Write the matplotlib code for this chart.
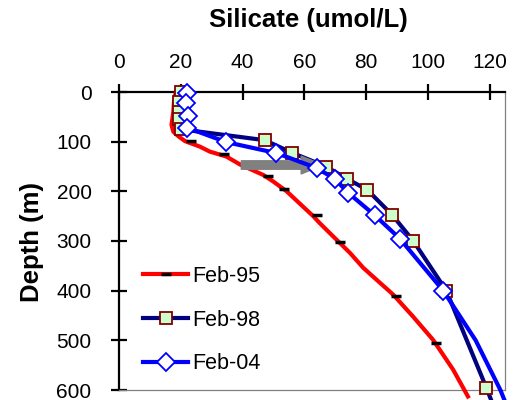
import matplotlib
matplotlib.use("Agg")
import matplotlib.pyplot as plt
from matplotlib.lines import Line2D
from matplotlib.patches import FancyArrowPatch

plt.rcParams['font.family'] = ['Liberation Sans', 'DejaVu Sans']

# ---- data ----
feb95_line_x = [18.4, 17.8, 17.6, 17.0, 17.6, 19.2, 21.4, 26.2, 29.4, 34.8, 39.2, 46.7, 49.9,
                54.3, 62.9, 65.0, 69.4, 74.8, 79.1, 83.4, 88.8, 95.2, 101.7, 108.2, 113.0]
feb95_line_d = [0, 20, 40, 66, 80, 89, 99, 110, 120, 130, 146, 167, 180,
                200, 250, 264, 291, 324, 354, 378, 408, 452, 499, 559, 613]
feb95_mark_x = [23.2, 34.0, 48.1, 53.5, 64.0, 71.5, 89.6, 102.6]
feb95_mark_d = [99, 125, 170, 195, 248, 302, 410, 505]

feb98_x = [20.0, 19.5, 19.5, 19.5, 20.0, 47.2, 55.9, 67.0, 73.9, 80.4, 88.4, 95.2, 106.0, 119.0, 120.5]
feb98_d = [0, 20, 40, 55, 75, 97, 122, 150, 175, 197, 247, 299, 400, 596, 620]

feb04_x = [22.1, 21.7, 22.2, 22.1, 34.8, 51.0, 64.0, 69.9, 74.2, 82.8, 90.9, 105.0, 115.5, 123.5, 124.8]
feb04_d = [2, 22, 48, 72, 101, 123, 153, 175, 203, 248, 295, 400, 500, 600, 620]
feb04_mark_n = 12  # markers on the first 12 samples

arrow_x = [39.6, 66.2]
arrow_d = [147, 147]

labels = ['Feb-95', 'Feb-98', 'Feb-04']
xticks = [0, 20, 40, 60, 80, 100, 120]
yticks = [0, 100, 200, 300, 400, 500, 600]

# ---- figure ----
fig = plt.figure(figsize=(5.17, 4.0), dpi=100)
ax = fig.add_axes([119/517, 10/400, 386/517, 298/400])

red = '#FF0000'
navy = '#000080'
blue = '#0000FF'

ax.plot(feb95_line_x, feb95_line_d, color=red, lw=3, clip_on=False, zorder=3)
ax.plot(feb95_mark_x, feb95_mark_d, ls='none', marker='_', ms=7, mew=2.5, color='black',
        clip_on=False, zorder=4)

ax.plot(feb98_x[:-1], feb98_d[:-1], color=navy, lw=3, marker='s', ms=9,
        mfc='#CCFFCC', mec='#800000', mew=1.3, clip_on=False, zorder=5)
ax.plot(feb98_x[-2:], feb98_d[-2:], color=navy, lw=3, clip_on=False, zorder=4.9)

ax.plot(feb04_x, feb04_d, color=blue, lw=3, clip_on=False, zorder=6)
ax.plot(feb04_x[:feb04_mark_n], feb04_d[:feb04_mark_n], ls='none', marker='D', ms=9.5,
        mfc='white', mec=blue, mew=1.3, clip_on=False, zorder=6.5)

arr = FancyArrowPatch((arrow_x[0], arrow_d[0]), (arrow_x[1], arrow_d[1]),
                      arrowstyle='simple,head_length=1.0,head_width=0.8,tail_width=0.38',
                      mutation_scale=16, color='#808080', shrinkA=0, shrinkB=0, zorder=5.5)
ax.add_patch(arr)

ax.set_xlim(0, 125)
ax.set_ylim(600, 0)
ax.set_xticks(xticks)
ax.set_yticks(yticks)
ax.xaxis.tick_top()
ax.xaxis.set_label_position('top')
ax.tick_params(axis='both', direction='inout', length=11.5, width=1.6, labelsize=15, color='black')
ax.tick_params(axis='x', pad=9)
ax.tick_params(axis='y', pad=14)

for s in ['top', 'left']:
    ax.spines[s].set_linewidth(1.6)
    ax.spines[s].set_color('black')
for s in ['right', 'bottom']:
    ax.spines[s].set_linewidth(0.9)
    ax.spines[s].set_color('#808080')

fig.text(308/517, 1 - 20/400, 'Silicate (umol/L)', ha='center', va='center',
         fontsize=18.5, fontweight='bold')
fig.text(32/517, 1 - 242/400, 'Depth (m)', ha='center', va='center', rotation=90,
         fontsize=18.5, fontweight='bold')

handles = [
    Line2D([], [], color=red, lw=3, marker='_', ms=7, mew=2.5, mec='black'),
    Line2D([], [], color=navy, lw=3, marker='s', ms=9, mfc='#CCFFCC', mec='#800000', mew=1.3),
    Line2D([], [], color=blue, lw=3, marker='D', ms=9.5, mfc='white', mec=blue, mew=1.3),
]
leg = ax.legend(handles, labels, loc='upper left', bbox_to_anchor=(143/517, 1 - 266/400),
                bbox_transform=fig.transFigure, frameon=False, fontsize=15.5,
                handlelength=2.1, handletextpad=0.2, labelspacing=1.05, numpoints=1,
                borderaxespad=0, borderpad=0)

fig.savefig('out.png', dpi=100)
